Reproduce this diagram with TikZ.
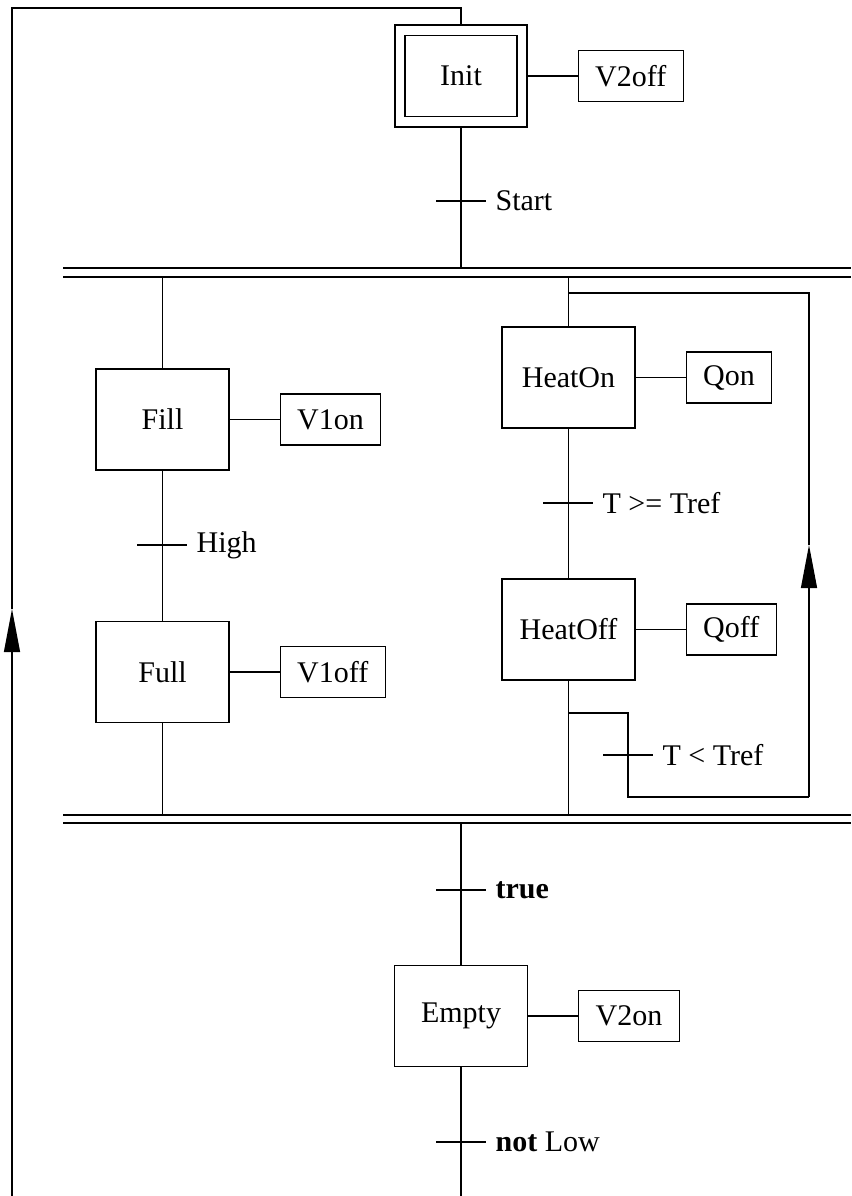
\documentclass[tikz,border=0pt]{standalone}
\usepackage{fontspec}
\setmainfont{Liberation Serif}
\usetikzlibrary{arrows.meta,positioning}
\tikzset{
    stepbox/.style={rectangle,draw,minimum width=133pt,minimum height=101pt},
    initbox/.style={rectangle,draw,minimum width=112pt,minimum height=81pt},
    actbox/.style={rectangle,draw,inner xsep=17pt,minimum height=51pt},
    bar/.style={-},
    up/.style={-{Triangle[length=43pt,width=16pt]}},
    cond/.style={right=9pt,inner sep=0pt}
}

\begin{document}
\begin{tikzpicture}[x=1pt,y=-1pt,line width=1.2pt,node distance=50pt,
    font=\fontsize{30}{36}\selectfont]

    \useasboundingbox (0,0) rectangle (851,1196);

    % steps
    \node[stepbox,minimum width=132pt,minimum height=102pt] (init) at (461,76) {};
    \node[initbox] (init inner) at (init) {Init};
    \node[stepbox] (fill)    at (162.5,419.5) {Fill};
    \node[stepbox] (full)    at (162.5,672)   {Full};
    \node[stepbox] (heaton)  at (568.5,377.5) {HeatOn};
    \node[stepbox] (heatoff) at (568.5,629.5) {HeatOff};
    \node[stepbox] (empty)   at (461,1016)    {Empty};

    % actions
    \node[actbox] (v2off) [right=of init]    {V2off};
    \node[actbox] (v1on)  [right=of fill]    {V1on};
    \node[actbox] (v1off) [right=of full]    {V1off};
    \node[actbox] (qon)   [right=of heaton]  {Qon};
    \node[actbox] (qoff)  [right=of heatoff] {Qoff};
    \node[actbox] (v2on)  [right=of empty]   {V2on};
    \foreach \s/\a in {init/v2off,fill/v1on,full/v1off,heaton/qon,heatoff/qoff,empty/v2on}
        \draw (\s.east) -- (\a.west);

    % double bars
    \coordinate (split a w) at (63,268);  \coordinate (split a e) at (851,268);
    \coordinate (split b w) at (63,277);  \coordinate (split b e) at (851,277);
    \coordinate (join a w)  at (63,815);  \coordinate (join a e)  at (851,815);
    \coordinate (join b w)  at (63,823);  \coordinate (join b e)  at (851,823);
    \draw[bar] (split a w) -- (split a e);
    \draw[bar] (split b w) -- (split b e);
    \draw[bar] (join a w) -- (join a e);
    \draw[bar] (join b w) -- (join b e);

    % transitions
    \coordinate (t start) at (461,201);
    \coordinate (t high)  at (162,545);
    \coordinate (t hot)   at (568,503);
    \coordinate (t cold)  at (628,755);
    \coordinate (t true)  at (461,890);
    \coordinate (t low)   at (461,1142);
    \draw ([xshift=-25pt]t start) -- ([xshift=25pt]t start) node[cond] {Start};
    \draw ([xshift=-25pt]t high)  -- ([xshift=25pt]t high)  node[cond] {High};
    \draw ([xshift=-25pt]t hot)   -- ([xshift=25pt]t hot)   node[cond] {T >= Tref};
    \draw ([xshift=-25pt]t cold)  -- ([xshift=25pt]t cold)  node[cond] {T < Tref};
    \draw ([xshift=-25pt]t true)  -- ([xshift=25pt]t true)  node[cond] {\textbf{true}};
    \draw ([xshift=-25pt]t low)   -- ([xshift=25pt]t low)   node[cond] {\textbf{not} Low};

    % links
    \draw (init.south) -- (init.south |- split a w);
    \draw (fill.north |- split b w) -- (fill.north);
    \draw (fill.south) -- (full.north);
    \draw (full.south) -- (full.south |- join a w);
    \draw (heaton.north |- split b w) -- (heaton.north);
    \draw (heaton.south) -- (heatoff.north);
    \draw (heatoff.south) -- (heatoff.south |- join a w);
    \draw (empty.north |- join b w) -- (empty.north);
    \draw (empty.south) -- (empty.south |- 0,1196);

    % loop back on HeatOn
    \coordinate (cold a) at (568,713);
    \coordinate (cold b) at (628,713);
    \coordinate (cold c) at (628,797);
    \coordinate (cold d) at (809,797);
    \coordinate (cold tip) at (809,545);
    \coordinate (cold e) at (809,293);
    \coordinate (cold f) at (568,293);
    \draw (cold a) -- (cold b) -- (cold c) -- (cold d);
    \draw[up] (cold d) -- (cold tip);
    \draw (cold tip) -- (cold e) -- (cold f);

    % loop back to Init
    \coordinate (back a) at (12,1196);
    \coordinate (back tip) at (12,609);
    \coordinate (back b) at (12,8);
    \coordinate (back c) at (461,8);
    \draw[up] (back a) -- (back tip);
    \draw (back tip) -- (back b) -- (back c) -- (init.north);

\end{tikzpicture}
\end{document}
